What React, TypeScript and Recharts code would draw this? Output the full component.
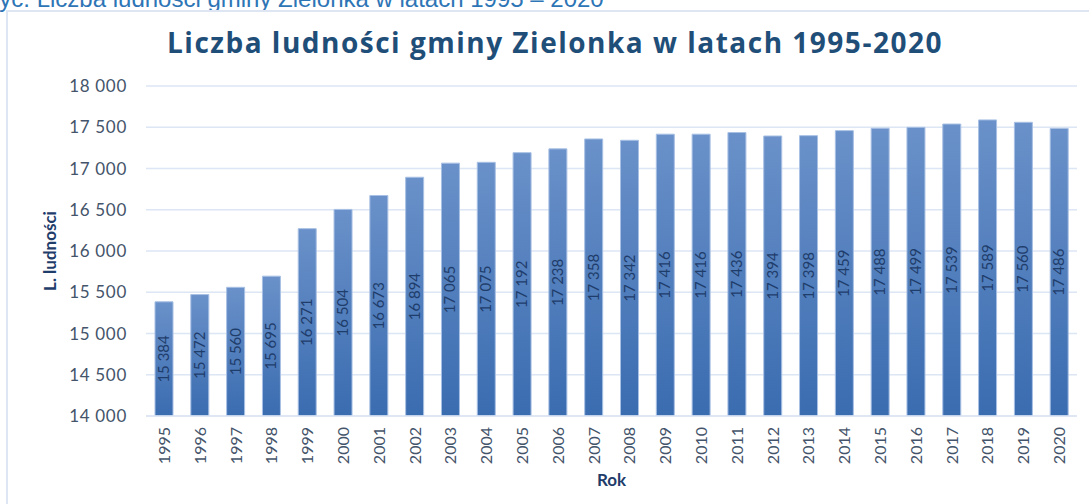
import React from 'react';
import { BarChart, Bar, XAxis, YAxis, CartesianGrid, LabelList, Label } from 'recharts';

const years = [
  '1995', '1996', '1997', '1998', '1999', '2000', '2001', '2002', '2003', '2004', '2005', '2006', '2007',
  '2008', '2009', '2010', '2011', '2012', '2013', '2014', '2015', '2016', '2017', '2018', '2019', '2020',
];
const population = [
  15384, 15472, 15560, 15695, 16271, 16504, 16673, 16894, 17065, 17075, 17192, 17238, 17358,
  17342, 17416, 17416, 17436, 17394, 17398, 17459, 17488, 17499, 17539, 17589, 17560, 17486,
];
const yTicks = [14000, 14500, 15000, 15500, 16000, 16500, 17000, 17500, 18000];

const data = years.map((rok, i) => ({ rok, ludnosc: population[i] }));

const fmt = (v: number) => String(v).replace(/\B(?=(\d{3})+(?!\d))/g, ' ');

const FONT = 'Lato, "Open Sans", sans-serif';
const TEXT = '#44546a';
const DARK = '#1f3d6b';

function YearTick(props: any) {
  const { x, y, payload } = props;
  return (
    <text
      x={0}
      y={0}
      transform={`translate(${x + 6},${y + 3}) rotate(-90)`}
      textAnchor="end"
      fill={TEXT}
      fontSize={16}
      fontFamily={FONT}
    >
      {payload.value}
    </text>
  );
}

function ValueLabel(props: any) {
  const { x, y, width, height, value } = props;
  const cx = x + width / 2;
  const cy = y + height / 2;
  return (
    <text
      x={0}
      y={0}
      transform={`translate(${cx + 5},${cy}) rotate(-90)`}
      textAnchor="middle"
      fill={DARK}
      fontSize={15}
      fontFamily={FONT}
    >
      {fmt(value)}
    </text>
  );
}

export default function App() {
  return (
    <div style={{ position: 'absolute', left: 0, top: 0, width: 1089, height: 504, overflow: 'hidden', background: '#fff' }}>
      <div
        style={{
          position: 'absolute',
          left: -18,
          top: -15,
          fontFamily: '"Liberation Sans", Arial, sans-serif',
          fontSize: 24,
          color: '#2e75b6',
          whiteSpace: 'nowrap',
        }}
      >
        Ryc. Liczba ludności gminy Zielonka w latach 1995 – 2020
      </div>
      <div
        style={{
          position: 'absolute',
          left: 6,
          top: 10,
          width: 1100,
          height: 520,
          border: '2px solid #dde6f2',
          boxSizing: 'border-box',
        }}
      />
      <div
        style={{
          position: 'absolute',
          left: 0,
          width: 1110,
          top: 23,
          textAlign: 'center',
          fontFamily: '"Open Sans", sans-serif',
          fontWeight: 700,
          fontSize: 28,
          letterSpacing: 1.5,
          color: '#1f4e79',
          whiteSpace: 'nowrap',
        }}
      >
        Liczba ludności gminy Zielonka w latach 1995-2020
      </div>
      <div style={{ position: 'absolute', left: 0, top: 0 }}>
        <BarChart
          width={1089}
          height={504}
          data={data}
          margin={{ top: 86, right: 12, bottom: 0, left: 0 }}
        >
          <defs>
            <linearGradient id="barFill" x1="0" y1="0" x2="0" y2="1">
              <stop offset="0%" stopColor="#6a91c9" />
              <stop offset="100%" stopColor="#3a6cb0" />
            </linearGradient>
          </defs>
          <CartesianGrid vertical={false} stroke="#dce6f4" strokeWidth={1.5} />
          <XAxis
            dataKey="rok"
            interval={0}
            height={88}
            axisLine={{ stroke: '#dce6f4', strokeWidth: 1.5 }}
            tickLine={false}
            tick={<YearTick />}
          >
            <Label value="Rok" position="insideBottom" offset={18} fill={DARK} fontSize={17} fontWeight={700} fontFamily={FONT} />
          </XAxis>
          <YAxis
            width={146}
            domain={[14000, 18000]}
            ticks={yTicks}
            allowDataOverflow
            axisLine={false}
            tickLine={false}
            tickSize={0}
            tickMargin={19}
            tickFormatter={fmt}
            tick={{ fill: TEXT, fontSize: 17, fontFamily: FONT, letterSpacing: 0.7 }}
          >
            <Label
              value="L. ludności"
              angle={-90}
              position="insideLeft"
              offset={50}
              fill={DARK}
              fontSize={17}
              fontWeight={700}
              fontFamily={FONT}
              style={{ textAnchor: 'middle' }}
            />
          </YAxis>
          <Bar
            dataKey="ludnosc"
            barSize={18}
            fill="url(#barFill)"
            stroke="#a8c0e4"
            strokeWidth={1}
            isAnimationActive={false}
          >
            <LabelList dataKey="ludnosc" content={<ValueLabel />} />
          </Bar>
        </BarChart>
      </div>
    </div>
  );
}
